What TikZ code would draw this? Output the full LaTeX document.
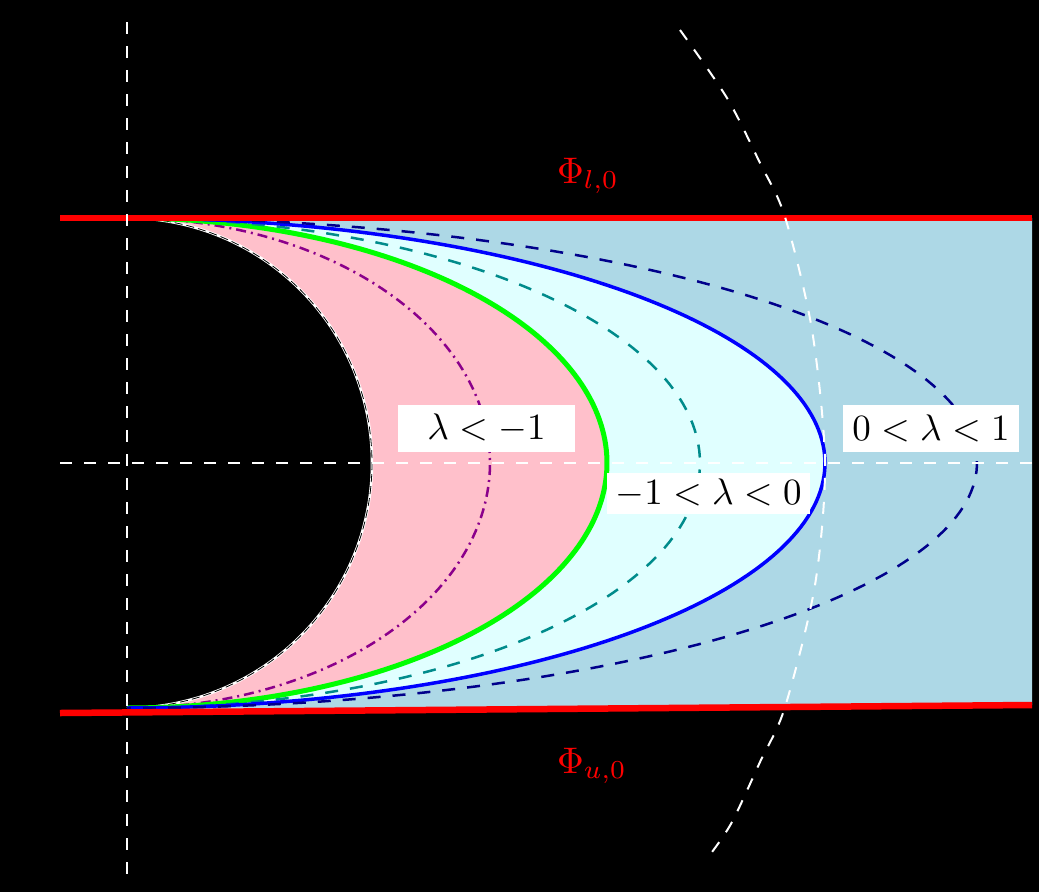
\documentclass[tikz,border=0pt]{standalone}
\usepackage{graphicx}
\definecolor{lightblueA}{HTML}{ADD8E6}
\definecolor{lightcyanA}{HTML}{E0FFFF}
\definecolor{pinkA}{HTML}{FFC0CB}
\definecolor{greenA}{HTML}{00FF00}
\definecolor{tealA}{HTML}{008B8B}
\definecolor{navyA}{HTML}{00008B}
\definecolor{purpleA}{HTML}{8B008B}
\definecolor{blueA}{HTML}{0000FF}
\definecolor{redA}{HTML}{FF0000}
\newcommand\bigtxt[1]{\scalebox{3.7}{#1}}
\begin{document}
\begin{tikzpicture}[x=1pt,y=-1pt,
  lab/.style={fill=white, inner sep=0pt, text=black},
  philab/.style={text=redA, inner sep=0pt, anchor=base west},
  axisline/.style={white, line width=2pt, dash pattern=on 12pt off 12pt},
  redline/.style={redA, line width=6.5pt},
  curve/.style={line width=2.5pt}]
\fill[black] (0,0) rectangle (1039,892);
\useasboundingbox (0,0) rectangle (1039,892);
% region fills
\fill[lightblueA] (127,218) -- (1032,218) -- (1032,705) -- (127,712) -- cycle;
\fill[lightcyanA] plot[domain=-90:90,samples=150] ({127+698*cos(\x)},{463+245*sin(\x)}) -- cycle;
\fill[pinkA] plot[domain=-90:90,samples=150] ({127+480*cos(\x)},{463+245*sin(\x)}) -- cycle;
\fill[black] plot[domain=-90:90,samples=150] ({127+245*cos(\x)},{463+245*sin(\x)}) -- cycle;
% boundary circle
\draw[white, line width=2.5pt] plot[domain=-90:90,samples=150] ({127+245*cos(\x)},{463+245*sin(\x)});
\draw[black, line width=0.8pt, dash pattern=on 8pt off 4pt] plot[domain=-90:90,samples=150] ({127+245*cos(\x)},{463+245*sin(\x)});
% family of curves
\draw[curve, purpleA, dash pattern=on 10pt off 5pt on 2pt off 5pt] plot[domain=-90:90,samples=150] ({127+363*cos(\x)},{463+245*sin(\x)});
\draw[greenA, line width=5pt] plot[domain=-90:90,samples=150] ({127+480*cos(\x)},{463+245*sin(\x)});
\draw[curve, tealA, dash pattern=on 13pt off 12pt] plot[domain=-90:90,samples=150] ({127+573*cos(\x)},{463+245*sin(\x)});
\draw[blueA, line width=3.5pt] plot[domain=-90:90,samples=150] ({127+698*cos(\x)},{463+245*sin(\x)});
\draw[curve, navyA, dash pattern=on 13pt off 12pt] plot[domain=-90:90,samples=150] ({127+850*cos(\x)},{463+245*sin(\x)});
% red boundary lines
\coordinate (tl) at (60,218);
\coordinate (tr) at (1032,218);
\coordinate (bl) at (60,713);
\coordinate (br) at (1032,705);
\draw[redline] (tl) -- (tr);
\draw[redline] (bl) -- (br);
% axes
\coordinate (vt) at (127,22);
\coordinate (vb) at (127,885);
\coordinate (hl) at (60,463);
\coordinate (hr) at (1039,463);
\draw[axisline] (vt) -- (vb);
\draw[axisline] (hl) -- (hr);
\draw[axisline] plot[smooth] coordinates {(680,30) (727,98) (760,163) (785,217) (812,330) (825,463) (815,585) (785,707) (760,762) (732,822) (712,852)};
% labels
\node[lab, minimum width=177pt, minimum height=47pt] (l1) at (486.5,428.5) {\bigtxt{$\lambda<-1$}};
\node[lab, minimum width=203pt, minimum height=41pt] (l2) at (708.5,493.5) {\bigtxt{$-1<\lambda<0$}};
\node[lab, minimum width=176pt, minimum height=47pt] (l3) at (931,428.5) {\bigtxt{$0<\lambda<1$}};
\node[philab] (pl) at (557,183) {\bigtxt{$\Phi_{l,0}$}};
\node[philab] (pu) at (557,773) {\bigtxt{$\Phi_{u,0}$}};
\end{tikzpicture}
\end{document}
